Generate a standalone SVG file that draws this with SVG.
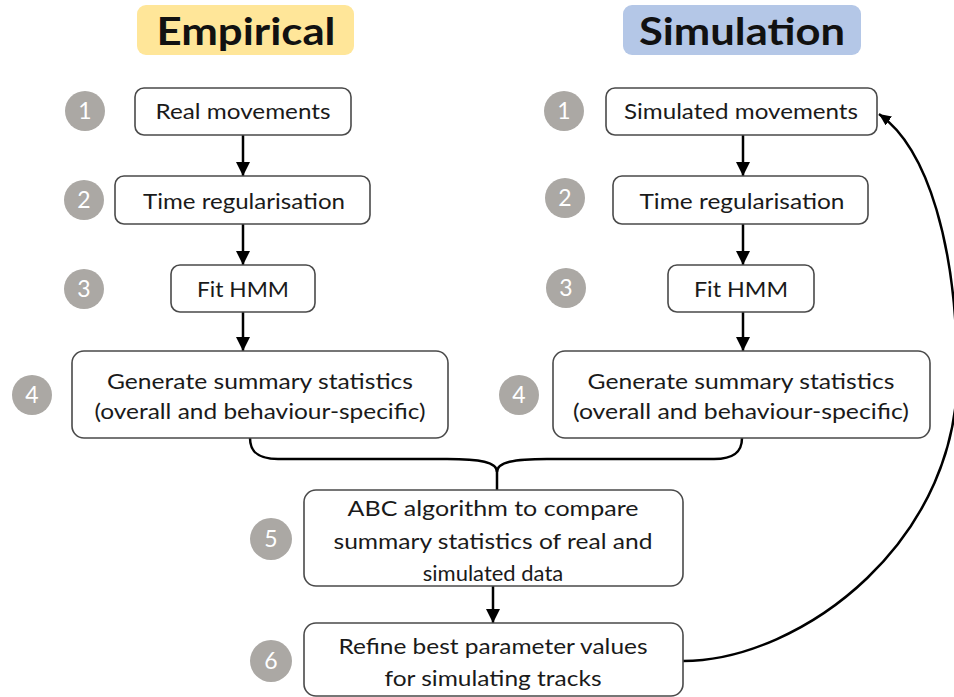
<svg xmlns="http://www.w3.org/2000/svg" width="954" height="697" viewBox="0 0 954 697">
<style>
.box{fill:#fff;stroke:#4a4a4a;stroke-width:1.6}
.t{font-family:Lato,"Open Sans","Liberation Sans",sans-serif;font-size:22px;fill:#1a1a1a;text-anchor:middle}
.num{font-family:Lato,"Open Sans","Liberation Sans",sans-serif;font-size:23px;fill:#fff;text-anchor:middle}
.c{fill:#aba8a4}
.hdr{font-family:Lato,"Open Sans","Liberation Sans",sans-serif;font-size:38px;font-weight:bold;fill:#111;text-anchor:middle}
.ln{fill:none;stroke:#000;stroke-width:2.5}
</style>
<defs>
<marker id="ah" markerUnits="userSpaceOnUse" markerWidth="14" markerHeight="15" refX="14" refY="7" orient="auto" viewBox="0 0 14 14">
<path d="M0,0 L14,7 L0,14 z" fill="#000"/>
</marker>
<marker id="ah2" markerUnits="userSpaceOnUse" markerWidth="12" markerHeight="11" refX="12" refY="5.5" orient="auto" viewBox="0 0 12 11">
<path d="M0,0 L12,5.5 L0,11 z" fill="#000"/>
</marker>
</defs>

<g id="hdr-empirical">
<rect x="137" y="5" width="217" height="50" rx="9" fill="#ffe699"/>
<text class="hdr" x="246" y="45" textLength="179" lengthAdjust="spacingAndGlyphs">Empirical</text>
</g>
<g id="hdr-simulation">
<rect x="623" y="5" width="238" height="50" rx="9" fill="#b4c7e7"/>
<text class="hdr" x="742" y="45" textLength="206" lengthAdjust="spacingAndGlyphs">Simulation</text>
</g>

<g id="connectors">
<line class="ln" x1="243" y1="135" x2="243" y2="176" marker-end="url(#ah)"/>
<line class="ln" x1="243" y1="224" x2="243" y2="265" marker-end="url(#ah)"/>
<line class="ln" x1="243" y1="312" x2="243" y2="351" marker-end="url(#ah)"/>
<line class="ln" x1="743" y1="135" x2="743" y2="176" marker-end="url(#ah)"/>
<line class="ln" x1="743" y1="224" x2="743" y2="265" marker-end="url(#ah)"/>
<line class="ln" x1="743" y1="312" x2="743" y2="351" marker-end="url(#ah)"/>
<path class="ln" d="M250,438 C250,452 258,459 278,459 L447,459 C480,459 497,462 497,472 L497,490"/>
<path class="ln" d="M742,438 C742,452 734,459 714,459 L547,459 C514,459 497,462 497,472"/>
<line class="ln" x1="493" y1="586" x2="493" y2="623" marker-end="url(#ah)"/>
<path class="ln" d="M683,661 C800,661 966,540 957,360 C955,250 930,150 879,114" marker-end="url(#ah2)"/>
</g>

<g id="e1"><circle class="c" cx="85" cy="111" r="20"/><text class="num" x="85" y="119">1</text>
<rect class="box" x="135" y="88" width="216" height="47" rx="9"/><text class="t" x="243" y="119" textLength="175" lengthAdjust="spacingAndGlyphs">Real movements</text></g>
<g id="e2"><circle class="c" cx="84" cy="200" r="20"/><text class="num" x="84" y="208">2</text>
<rect class="box" x="115" y="176" width="255" height="48" rx="9"/><text class="t" x="244" y="209" textLength="202" lengthAdjust="spacingAndGlyphs">Time regularisation</text></g>
<g id="e3"><circle class="c" cx="84" cy="289" r="20"/><text class="num" x="84" y="297">3</text>
<rect class="box" x="171" y="265" width="144" height="47" rx="9"/><text class="t" x="243" y="297" textLength="92" lengthAdjust="spacingAndGlyphs">Fit HMM</text></g>
<g id="e4"><circle class="c" cx="32" cy="395" r="20"/><text class="num" x="32" y="403">4</text>
<rect class="box" x="72" y="351" width="376" height="87" rx="12"/>
<text class="t" x="260" y="389" textLength="306" lengthAdjust="spacingAndGlyphs">Generate summary statistics</text>
<text class="t" x="260" y="419" textLength="331" lengthAdjust="spacingAndGlyphs">(overall and behaviour-specific)</text></g>

<g id="s1"><circle class="c" cx="564" cy="111" r="20"/><text class="num" x="564" y="119">1</text>
<rect class="box" x="606" y="88" width="271" height="47" rx="9"/><text class="t" x="741" y="119" textLength="234" lengthAdjust="spacingAndGlyphs">Simulated movements</text></g>
<g id="s2"><circle class="c" cx="565" cy="198" r="20"/><text class="num" x="565" y="206">2</text>
<rect class="box" x="613" y="176" width="255" height="48" rx="9"/><text class="t" x="742" y="209" textLength="205" lengthAdjust="spacingAndGlyphs">Time regularisation</text></g>
<g id="s3"><circle class="c" cx="566" cy="288" r="20"/><text class="num" x="566" y="296">3</text>
<rect class="box" x="668" y="265" width="146" height="47" rx="9"/><text class="t" x="741" y="297" textLength="94" lengthAdjust="spacingAndGlyphs">Fit HMM</text></g>
<g id="s4"><circle class="c" cx="519" cy="395" r="20"/><text class="num" x="519" y="403">4</text>
<rect class="box" x="553" y="351" width="377" height="87" rx="12"/>
<text class="t" x="741" y="389" textLength="307" lengthAdjust="spacingAndGlyphs">Generate summary statistics</text>
<text class="t" x="741" y="419" textLength="336" lengthAdjust="spacingAndGlyphs">(overall and behaviour-specific)</text></g>

<g id="n5"><circle class="c" cx="271" cy="539" r="21"/><text class="num" x="271" y="547">5</text>
<rect class="box" x="304" y="490" width="379" height="96" rx="12"/>
<text class="t" x="493" y="516" textLength="291" lengthAdjust="spacingAndGlyphs">ABC algorithm to compare</text>
<text class="t" x="493" y="549" textLength="319" lengthAdjust="spacingAndGlyphs">summary statistics of real and</text>
<text class="t" x="493" y="581">simulated data</text></g>

<g id="n6"><circle class="c" cx="271" cy="661" r="21"/><text class="num" x="271" y="669">6</text>
<rect class="box" x="304" y="623" width="379" height="73" rx="12"/>
<text class="t" x="493" y="654" textLength="309" lengthAdjust="spacingAndGlyphs">Refine best parameter values</text>
<text class="t" x="493" y="686" textLength="217" lengthAdjust="spacingAndGlyphs">for simulating tracks</text></g>
</svg>
